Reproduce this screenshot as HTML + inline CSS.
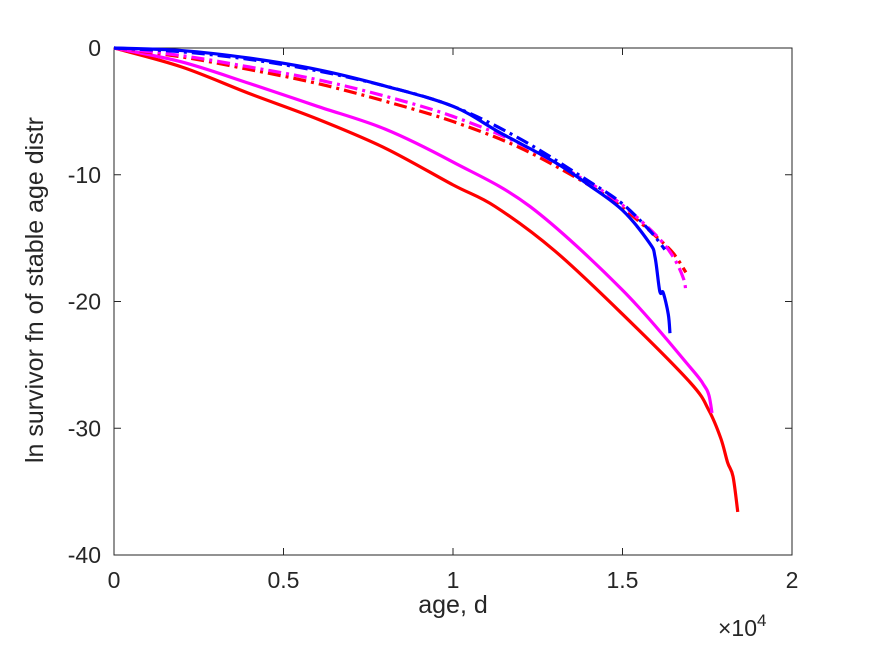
<!DOCTYPE html>
<html><head><meta charset="utf-8"><style>body{margin:0;background:#fff}svg text{font-family:"Liberation Sans",sans-serif;fill:#262626}</style></head>
<body>
<svg id="c" width="875" height="656" xmlns="http://www.w3.org/2000/svg"></svg>
<script>
const xTicks=[0,0.5,1,1.5,2];
const xTickLabels=["0","0.5","1","1.5","2"];
const yTicks=[0,-10,-20,-30,-40];
const yTickLabels=["0","-10","-20","-30","-40"];
const blueSolid=[[0,0],[0.2,-0.2],[0.4,-0.8],[0.6,-1.7],[0.8,-3.0],[1.0,-4.6],[1.14,-6.7],[1.3,-9.0],[1.4,-10.8],[1.5,-12.8],[1.58,-15.4],[1.596,-16.5],[1.61,-19.2],[1.62,-19.3],[1.635,-21],[1.64,-22.5]];
const blueDash=[[0,0],[0.2,-0.3],[0.4,-0.9],[0.6,-1.8],[0.8,-3.0],[1.0,-4.6],[1.2,-7.2],[1.4,-10.5],[1.5,-12.3],[1.58,-14.4],[1.625,-15.9]];
const magentaDash=[[0,0],[0.2,-0.6],[0.4,-1.5],[0.6,-2.5],[0.8,-3.8],[1.0,-5.4],[1.2,-7.6],[1.4,-10.6],[1.5,-12.4],[1.6,-14.8],[1.65,-16.5],[1.68,-18.2],[1.687,-19.3]];
const redDash=[[0,0],[0.2,-0.7],[0.4,-1.7],[0.6,-2.8],[0.8,-4.2],[1.0,-5.8],[1.2,-7.9],[1.4,-10.8],[1.5,-12.6],[1.6,-14.9],[1.65,-16.2],[1.687,-17.7]];
const magentaSolid=[[0,0],[0.2,-1.1],[0.4,-2.8],[0.6,-4.6],[0.8,-6.4],[1.0,-9.0],[1.227,-12.5],[1.5,-19.1],[1.7,-25.2],[1.74,-26.6],[1.755,-27.4],[1.764,-28.8]];
const redSolid=[[0,0],[0.2,-1.5],[0.4,-3.6],[0.6,-5.6],[0.8,-7.9],[1.0,-10.8],[1.124,-12.5],[1.3,-16.0],[1.5,-21.0],[1.7,-26.4],[1.755,-28.6],[1.79,-30.8],[1.81,-32.7],[1.826,-33.8],[1.84,-36.6]];
const X0=114,X1=792,Y0=48,Y1=555;
const sx=v=>X0+(v-0)/(2-0)*(X1-X0);
const sy=v=>Y0+(0-v)/(0+40)*(Y1-Y0);
const svg=document.getElementById('c');
const NS="http://www.w3.org/2000/svg";
function mk(t,a){const e=document.createElementNS(NS,t);for(const k in a)e.setAttribute(k,a[k]);svg.appendChild(e);return e;}
let r=mk('rect',{x:X0,y:Y0,width:X1-X0,height:Y1-Y0,fill:'#fff',stroke:'#262626','stroke-width':1});


xTicks.forEach((t,i)=>{
 const x=sx(t);
 let l=mk('path',{d:`M${x},${Y1}v-7M${x},${Y0}v7`,stroke:'#262626','stroke-width':1});
 
 
 let tx=mk('text',{x:x,y:588,'font-size':23,'text-anchor':'middle'});tx.textContent=xTickLabels[i];
 
 
});
yTicks.forEach((t,i)=>{
 const y=sy(t);
 let l=mk('path',{d:`M${X0},${y}h7M${X1},${y}h-7`,stroke:'#262626','stroke-width':1});
 
 
 let tx=mk('text',{x:101,y:y+8,'font-size':23,'text-anchor':'end'});tx.textContent=yTickLabels[i];
 
 
});
function smooth(d){
 const p=d.map(q=>[sx(q[0]),sy(q[1])]);
 let s='M'+p[0][0]+','+p[0][1];
 for(let i=0;i<p.length-1;i++){
  const a=p[Math.max(0,i-1)],b=p[i],c=p[i+1],e=p[Math.min(p.length-1,i+2)];
  const c1=[b[0]+(c[0]-a[0])/6,b[1]+(c[1]-a[1])/6],c2=[c[0]-(e[0]-b[0])/6,c[1]-(e[1]-b[1])/6];
  s+=`C${c1[0]},${c1[1]} ${c2[0]},${c2[1]} ${c[0]},${c[1]}`;
 }
 return s;
}
function line(d,c,dash,name){
 const p=mk('path',{d:smooth(d),fill:'none',stroke:c,'stroke-width':3.2,'stroke-linejoin':'round'});
 if(dash)p.setAttribute('stroke-dasharray','13,5,3,5');
 
 
}
line(redSolid,'#ff0000',false,'red-solid-line');
line(magentaSolid,'#ff00ff',false,'magenta-solid-line');
line(redDash,'#ff0000',true,'red-dashdot-line');
line(magentaDash,'#ff00ff',true,'magenta-dashdot-line');
line(blueDash,'#0000ff',true,'blue-dashdot-line');
line(blueSolid,'#0000ff',false,'blue-solid-line');
let xl=mk('text',{x:453,y:613,'font-size':25,'text-anchor':'middle'});xl.textContent='age, d';


let ex=mk('text',{x:718,y:636,'font-size':23});ex.innerHTML='×10<tspan dy="-10" font-size="17">4</tspan>';


let yl=mk('text',{x:0,y:0,'font-size':25,'text-anchor':'middle',transform:'translate(43,290) rotate(-90)'});yl.textContent='ln survivor fn of stable age distr';


</script>
</body></html>
